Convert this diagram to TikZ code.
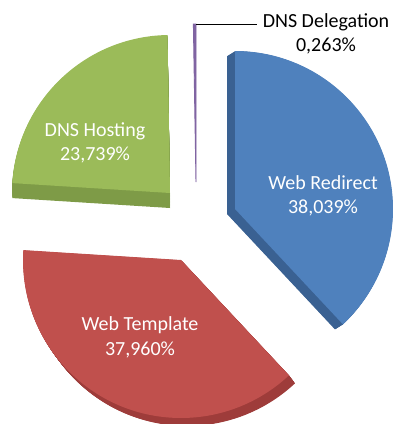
\documentclass[tikz,border=0pt]{standalone}
\usepackage{fontspec}
\setmainfont{Carlito}
\definecolor{blueface}{HTML}{4F81BD}
\definecolor{bluedark}{HTML}{3A6192}
\definecolor{redface}{HTML}{C0504D}
\definecolor{reddark}{HTML}{9E3C3A}
\definecolor{greenface}{HTML}{9BBB59}
\definecolor{greendark}{HTML}{7E9B47}
\definecolor{purpleface}{HTML}{8064A2}
\newcommand\bluepath{(235,-209) -- (235,-51) arc[start angle=90,end angle=-46.9,radius=158pt] -- cycle}
\newcommand\greenpath{(170,-193) -- ++(90.9:158pt) arc[start angle=90.9,end angle=176.4,radius=158pt] -- cycle}
\newcommand\redpath{(181,-260) -- ++(176.4:158pt) arc[start angle=176.4,end angle=313.1,radius=158pt] -- cycle}
\newcommand\delpath{(196,-182) -- ++(90:158pt) arc[start angle=90,end angle=90.95,radius=158pt] -- cycle}
\begin{document}
\begin{tikzpicture}[x=1pt,y=1pt,
  lbl/.style={align=center,text=white,font=\fontsize{20}{24.5}\selectfont,inner sep=0pt},
  dlbl/.style={align=center,text=black,font=\fontsize{20}{24.5}\selectfont,inner sep=0pt},
  leader/.style={draw=black,line width=0.8pt}]
\useasboundingbox (0,0) rectangle (392,-424);
% depth (side) of slices
\foreach \i in {20,...,1}{
  \fill[bluedark,shift={(-8*\i/20,-5*\i/20)}] \bluepath;
  \fill[greendark,shift={(0,-15*\i/20)}] \greenpath;
  \fill[reddark,shift={(6*\i/20,-8*\i/20)}] \redpath;
}
% faces
\fill[blueface] \bluepath;
\fill[greenface] \greenpath;
\fill[redface] \redpath;
\filldraw[fill=purpleface,draw=purpleface,line width=0.9pt] \delpath;
% labels
\node[lbl] (hosting) at (95,-143) {DNS Hosting\\23,739\%};
\node[lbl] (redirect) at (323,-196) {Web Redirect\\38,039\%};
\node[lbl] (template) at (140,-337.5) {Web Template\\37,960\%};
\node[dlbl] (delegation) at (326,-34) {DNS Delegation\\0,263\%};
% leader line
\coordinate (deltop) at (196,-24.5);
\coordinate (leadend) at (257,-24.5);
\draw[leader] (deltop) -- (leadend);
\end{tikzpicture}
\end{document}
